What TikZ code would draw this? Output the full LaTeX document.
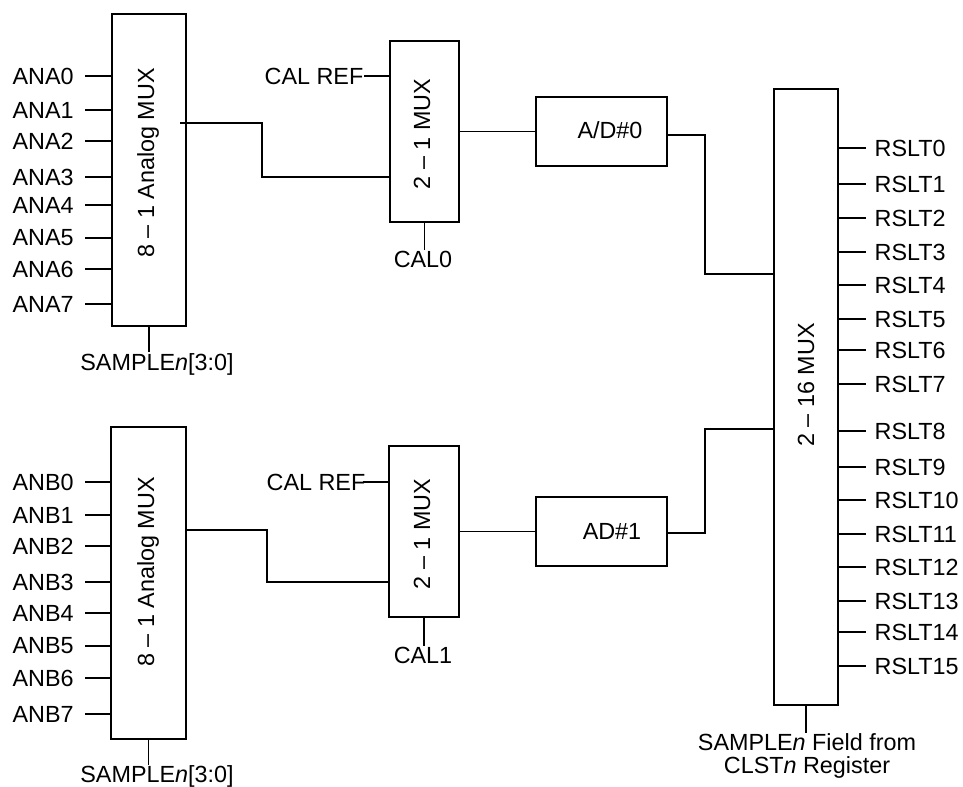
\documentclass[tikz,border=0pt]{standalone}
\usepackage{fontspec}
\setmainfont{Liberation Sans}
\usetikzlibrary{calc}

\begin{document}
\begin{tikzpicture}[
    x=0.02cm,
    y=-0.02cm,
    line width=0.7pt,
    every node/.style={font=\fontsize{13.3}{16}\selectfont},
    muxbox/.style={
        draw,
        inner sep=0pt
    },
    pinlabel/.style={
        inner sep=0pt
    },
    boxlabel/.style={
        rotate=90,
        inner sep=0pt
    }
]

    \useasboundingbox (0,0) rectangle (963,787);

    % Upper channel
    \node[muxbox, minimum width=1.48cm, minimum height=6.24cm] (amuxA) at (149,170) {};
    \node[boxlabel] (amuxAtxt) at (148,163) {8 – 1 Analog MUX};
    \node[muxbox, minimum width=1.38cm, minimum height=3.62cm] (cmuxA) at (424.5,131.5) {};
    \node[boxlabel] (cmuxAtxt) at (422,134) {2 – 1 MUX};
    \node[muxbox, minimum width=2.62cm, minimum height=1.38cm] (adA) at (601.5,131.5) {};
    \node[pinlabel] (adAtxt) at (610,130) {A/D\#0};

    % Lower channel
    \node[muxbox, minimum width=1.5cm, minimum height=6.24cm] (amuxB) at (148.5,583) {};
    \node[boxlabel] (amuxBtxt) at (148,572) {8 – 1 Analog MUX};
    \node[muxbox, minimum width=1.4cm, minimum height=3.42cm] (cmuxB) at (424,531.5) {};
    \node[boxlabel] (cmuxBtxt) at (422,534) {2 – 1 MUX};
    \node[muxbox, minimum width=2.62cm, minimum height=1.38cm] (adB) at (601.5,531.5) {};
    \node[pinlabel] (adBtxt) at (612,531) {AD\#1};

    % Output mux
    \node[muxbox, minimum width=1.28cm, minimum height=12.32cm] (bigmux) at (806,397) {};
    \node[boxlabel] (bigmuxtxt) at (806,385) {2 – 16 MUX};

    % Analog inputs
    \foreach \i/\y in {0/76,1/110,2/141,3/177,4/205,5/238,6/269,7/304} {
        \node[pinlabel, anchor=west] (ana\i) at (12,\y) {ANA\i};
        \coordinate (inA\i) at (85,\y);
        \draw (inA\i) -- (inA\i -| amuxA.west);
    }
    \foreach \i/\y in {0/482,1/515,2/546,3/582,4/613,5/646,6/678,7/714} {
        \node[pinlabel, anchor=west] (anb\i) at (12,\y) {ANB\i};
        \coordinate (inB\i) at (85,\y);
        \draw (inB\i) -- (inB\i -| amuxB.west);
    }

    % Results
    \foreach \i/\y in {0/148,1/184,2/218,3/252,4/285,5/319,6/350,7/384,
                       8/431,9/467,10/500,11/534,12/567,13/601,14/632,15/666} {
        \node[pinlabel, anchor=west] (rslt\i) at (874,\y) {RSLT\i};
        \coordinate (out\i) at (866,\y);
        \draw (out\i -| bigmux.east) -- (out\i);
    }

    % Select and calibration inputs
    \node[pinlabel] (selA) at (157,364) {SAMPLE\textit{n}[3:0]};
    \draw (amuxA.south) -- (selA.north -| amuxA.south);
    \node[pinlabel] (selB) at (157,776) {SAMPLE\textit{n}[3:0]};
    \draw (amuxB.south) -- (selB.north -| amuxB.south);

    \node[pinlabel, anchor=east] (refA) at (364,76) {CAL REF};
    \draw (refA.east) -- (refA.east -| cmuxA.west);
    \node[pinlabel, anchor=east] (refB) at (366,482) {CAL REF};
    \draw (refB.east) ++(-3,0) -- (refB.east -| cmuxB.west);

    \node[pinlabel] (cal0) at (423,259) {CAL0};
    \draw (cmuxA.south) -- (cal0.north -| cmuxA.south);
    \node[pinlabel] (cal1) at (423,655) {CAL1};
    \draw (cmuxB.south) -- (cal1.north -| cmuxB.south);

    \node[pinlabel, align=center, font=\fontsize{13.3}{13.6}\selectfont] (selBig) at (807,756)
        {SAMPLE\textit{n} Field from\\CLST\textit{n} Register};
    \draw (bigmux.south) -- (selBig.north -| bigmux.south);

    % Signal path
    \coordinate (amuxAout) at (180,123);
    \coordinate (cmuxAin) at (390,177);
    \coordinate (adAout) at (667,135);
    \coordinate (bigin0) at (774,274);
    \draw (amuxAout) -- ++(82,0) |- (cmuxAin);
    \draw (adA.west -| cmuxA.east) -- (adA.west);
    \draw (adAout) -- ++(38,0) |- (bigin0);

    \coordinate (amuxBout) at (186,530);
    \coordinate (cmuxBin) at (389,582);
    \coordinate (adBout) at (667,533);
    \coordinate (bigin1) at (774,429);
    \draw (amuxBout) -- ++(81,0) |- (cmuxBin);
    \draw (adB.west -| cmuxB.east) -- (adB.west);
    \draw (adBout) -- ++(38,0) |- (bigin1);

\end{tikzpicture}
\end{document}
